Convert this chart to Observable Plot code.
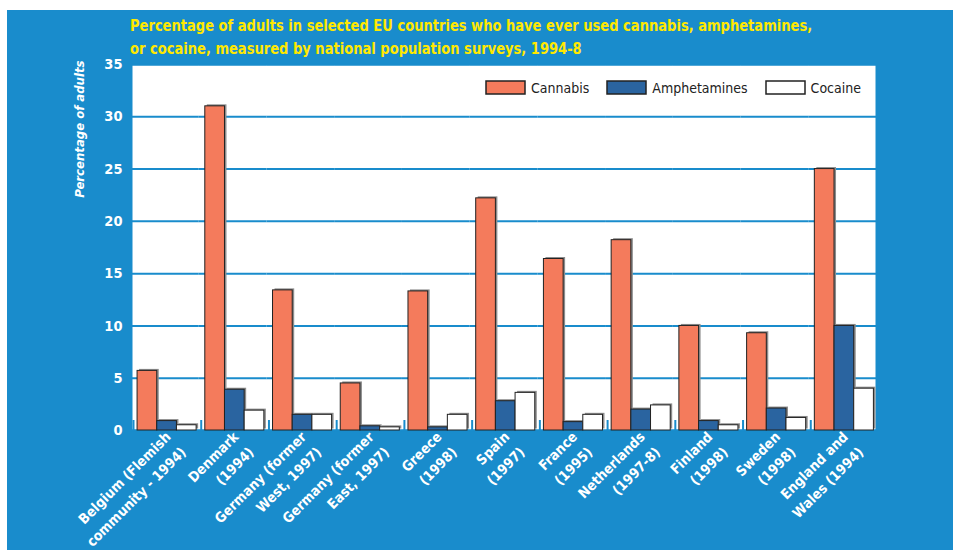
<!DOCTYPE html>
<html><head><meta charset="utf-8">
<script src="https://cdn.jsdelivr.net/npm/d3@7"></script>
<script src="https://cdn.jsdelivr.net/npm/@observablehq/plot@0.6"></script>
<style>
body{margin:0;background:#fff;}
#page{position:relative;width:953px;height:550px;overflow:hidden;font-family:"DejaVu Sans Condensed","Liberation Sans Narrow","Liberation Sans",sans-serif;}
#bg{position:absolute;left:7px;top:10px;right:0;bottom:0;background:#198ccc;}
#title{position:absolute;left:130px;top:14px;color:#ffe800;font-weight:bold;font-size:16.5px;line-height:23px;white-space:nowrap;transform:scaleX(0.88);transform-origin:0 0;}
#chart{position:absolute;left:0;top:0;}
#legend{position:absolute;left:486px;top:71px;}
#legend .lg-swatch{margin-right:18px !important;}
#legend .lg-swatch svg{margin-right:6px !important;overflow:visible;}
#legend .lg-swatch svg rect{stroke:#222;stroke-width:1.5px;}
#legend .lg-swatches{margin:0 !important;}
</style></head>
<body><div id="page"><div id="bg"></div><div id="chart"></div><div id="title"></div><div id="legend"></div></div>
<script>
const titleLines = ["Percentage of adults in selected EU countries who have ever used cannabis, amphetamines,", "or cocaine, measured by national population surveys, 1994-8"];
const yLabel = "Percentage of adults";
const countries = ["Belgium (Flemish\ncommunity - 1994)", "Denmark\n(1994)", "Germany (former\nWest, 1997)", "Germany (former\nEast, 1997)", "Greece\n(1998)", "Spain\n(1997)", "France\n(1995)", "Netherlands\n(1997-8)", "Finland\n(1998)", "Sweden\n(1998)", "England and\nWales (1994)"];
const drugs = ["Cannabis", "Amphetamines", "Cocaine"];
const cannabis =     [5.7, 31.0, 13.4, 4.5, 13.3, 22.2, 16.4, 18.2, 10.0, 9.3, 25.0];
const amphetamines = [0.9, 3.9, 1.5, 0.4, 0.3, 2.8, 0.8, 2.0, 0.9, 2.1, 10.0];
const cocaine =      [0.5, 1.9, 1.5, 0.3, 1.5, 3.6, 1.5, 2.4, 0.5, 1.2, 4.0];
const yTicks = [0, 5, 10, 15, 20, 25, 30, 35];
const colors = ["#f47b5c", "#2a64a0", "#ffffff"];

const FONT = '"DejaVu Sans Condensed","Liberation Sans Narrow","Liberation Sans",sans-serif';
const blue = "#198ccc";
const series = [cannabis, amphetamines, cocaine];
const data = countries.flatMap((c, i) => drugs.map((d, j) => ({country: c, drug: d, value: series[j][i]})));

document.getElementById("title").innerHTML = titleLines.join("<br>");

const W = 953, H = 550, ML = 131, MR = 77, MT = 64, MB = 120;
const bw = (W - ML - MR) / countries.length;

const chart = Plot.plot({
  width: W, height: H,
  marginTop: MT, marginBottom: MB, marginLeft: ML, marginRight: MR,
  style: {background: "transparent", fontFamily: FONT, overflow: "visible"},
  fx: {domain: countries, paddingInner: 0, paddingOuter: 0, round: false, label: null},
  x: {domain: drugs, paddingInner: 0, paddingOuter: 0.22, align: 0.7, round: false, axis: null},
  y: {domain: [0, 35], label: null},
  color: {domain: drugs, range: colors},
  marks: [
    Plot.frame({facet: "super", fill: "white"}),
    Plot.gridY(yTicks, {stroke: blue, strokeOpacity: 1, strokeWidth: 2}),
    Plot.frame({facet: "super", stroke: blue, strokeWidth: 2}),
    Plot.barY(data, {fx: "country", x: "drug", y: "value", fill: "#8c8c8c", dx: 2, dy: -1.5}),
    Plot.barY(data, {fx: "country", x: "drug", y: "value", fill: "drug", stroke: "#222", strokeWidth: 1}),
    Plot.axisFx({anchor: "bottom", tickSize: 10, dy: -10, dx: -bw / 2 + 2, text: null, label: null, stroke: blue, strokeWidth: 2}),
    Plot.axisFx({anchor: "bottom", tickSize: 0, tickPadding: 10, dx: 9, tickRotate: -45, label: null, fill: "white", fontSize: 14, fontWeight: "bold", lineHeight: 1.55}),
    Plot.axisY(yTicks, {anchor: "left", tickSize: 0, tickPadding: 9, label: null, fill: "white", fontSize: 14.5, fontWeight: "bold"}),
    Plot.text([yLabel], {facet: "super", frameAnchor: "top-left", rotate: -90, textAnchor: "end", dx: -57, dy: -4, fill: "white", fontSize: 13, fontWeight: "bold", fontStyle: "italic"})
  ]
});
document.getElementById("chart").append(chart);

const leg = Plot.legend({
  color: {domain: drugs, range: colors},
  swatchWidth: 39, swatchHeight: 13, className: "lg",
  style: {fontSize: "14px", fontFamily: FONT, color: "#222", background: "transparent"}
});
document.getElementById("legend").append(leg);
</script>
</body></html>
